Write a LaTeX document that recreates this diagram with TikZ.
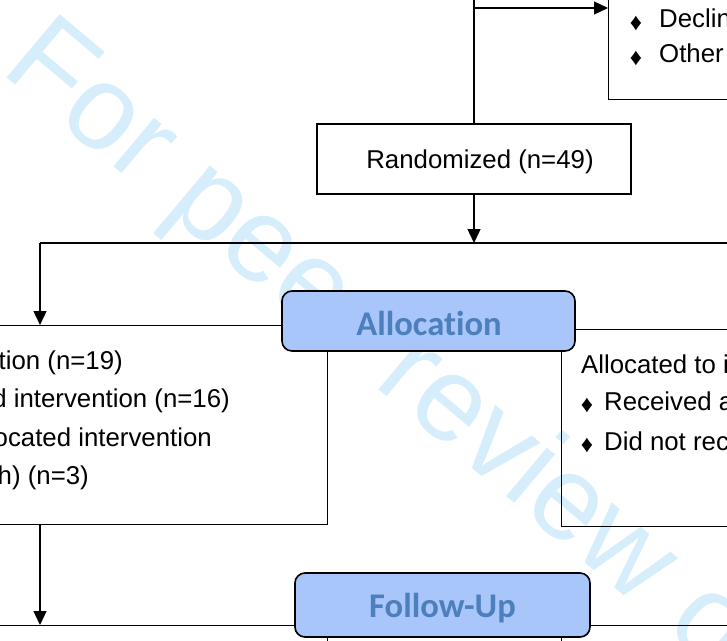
\documentclass[tikz,border=0pt]{standalone}
\usepackage{fontspec}
\setmainfont{Liberation Sans}
\newfontfamily\calib[Ligatures=NoCommon]{Carlito}
\usetikzlibrary{arrows.meta}
\definecolor{wmcol}{RGB}{214,238,251}
\definecolor{phasefill}{RGB}{168,198,250}
\definecolor{phasetext}{RGB}{76,127,188}
\tikzset{
  box/.style={draw, line width=1.3pt, inner sep=0pt},
  phase/.style={draw, line width=1.6pt, rounded corners=10pt, fill=phasefill, inner sep=0pt},
  phasetxt/.style={inner sep=0pt, text=phasetext, font=\calib\bfseries\fontsize{34.6}{40}\selectfont},
  conn/.style={line width=1.3pt},
  arr/.style={conn, -{Triangle[length=14pt,width=13pt]}},
  txt/.style={inner sep=0pt, font=\fontsize{25.8}{31}\selectfont},
  dia/.style={inner sep=0pt, font=\fontsize{24}{24}\selectfont},
  wmark/.style={inner sep=0pt, text=wmcol, font=\fontsize{120}{130}\selectfont},
}
\begin{document}
\begin{tikzpicture}[x=1pt,y=-1pt]
\useasboundingbox (0,0) rectangle (727,640);
\clip (0,0) rectangle (727,640);
\fill[white] (0,0) rectangle (727,640);
% watermark
\node[wmark, rotate=-40, anchor=base west] (wm) at (-0.4,71.8) {For peer review only};
% exclusion box
\node[box, anchor=south west, minimum width=300pt, minimum height=200pt] (excl) at (608,100) {};
\node[dia] (e1) at (636,23) {♦};
\node[txt, anchor=base west] (e1t) at (659,27) {Declined to participate};
\node[dia] (e2) at (636,58) {♦};
\node[txt, anchor=base west] (e2t) at (659,62) {Other reasons};
% randomized
\node[box, minimum width=314pt, minimum height=70pt] (rand) at (474,159) {};
\node[txt, anchor=base] (randt) at (480,168) {Randomized (n=49)};
\coordinate (top) at (474,-5);
\draw[conn] (top) -- (rand.north);
\coordinate (tj) at (474,8);
\draw[arr] (tj) -- (tj -| excl.west);
% allocation boxes
\node[box, anchor=north east, minimum width=530pt, minimum height=199pt] (albox) at (328,325) {};
\node[box, anchor=north west, minimum width=400pt, minimum height=197pt] (arbox) at (561,329) {};
\coordinate (sp) at (474,243);
\coordinate (spl) at (40,243);
\coordinate (spr) at (740,243);
\draw[arr] (rand.south) -- (sp);
\draw[conn] (spl) -- (spr);
\draw[arr] (spl) -- (spl |- albox.north);
% left box text
\node[txt, anchor=base east] (l1) at (123,369) {Allocated to intervention (n=19)};
\node[txt, anchor=base east] (l2) at (230,407) {Received allocated intervention (n=16)};
\node[txt, anchor=base east] (l3) at (212,446) {Did not receive allocated intervention};
\node[txt, anchor=base east] (l4) at (89,484) {(death) (n=3)};
% right box text
\node[txt, anchor=base west] (r1) at (581,373) {Allocated to intervention};
\node[dia] (r2d) at (587,405) {♦};
\node[txt, anchor=base west] (r2) at (604,410) {Received allocated intervention};
\node[dia] (r3d) at (587,445) {♦};
\node[txt, anchor=base west] (r3) at (604,450) {Did not receive allocated intervention};
% follow-up row
\node[box, anchor=north east, minimum width=530pt, minimum height=100pt] (fubl) at (328,625) {};
\node[box, anchor=north west, minimum width=400pt, minimum height=100pt] (fubr) at (561,625) {};
\draw[arr] (albox.south -| spl) -- (fubl.north -| spl);
% phase labels
\node[phase, minimum width=293pt, minimum height=60pt] (alloc) at (428.5,321) {};
\node[phasetxt, anchor=base] (alloct) at (429,335) {Allocation};
\node[phase, minimum width=295pt, minimum height=64pt] (fu) at (442.5,605) {};
\node[phasetxt, anchor=base] (fut) at (442.5,617) {Follow-Up};
\end{tikzpicture}
\end{document}
